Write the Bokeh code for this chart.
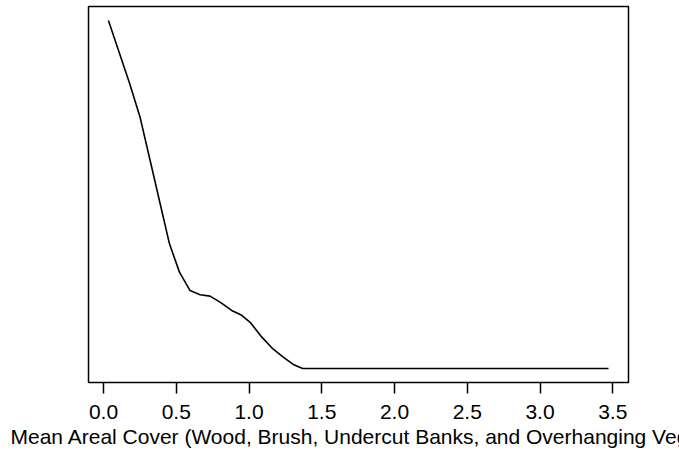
from bokeh.plotting import figure
from bokeh.models import Range1d, FixedTicker, Label, Title
from bokeh.embed import file_html
from bokeh.resources import INLINE

# Mean areal cover (x) vs. relative response (y)
cover = [0.034, 0.178, 0.252, 0.321, 0.389, 0.453, 0.522, 0.595, 0.664, 0.732,
         0.801, 0.881, 0.950, 1.012, 1.087, 1.163, 1.235, 1.304, 1.369, 3.471]
response = [1.000, 0.821, 0.721, 0.597, 0.474, 0.359, 0.277, 0.224, 0.212, 0.208,
            0.191, 0.167, 0.153, 0.131, 0.091, 0.057, 0.033, 0.012, 0.000, 0.000]
x_ticks = [0.0, 0.5, 1.0, 1.5, 2.0, 2.5, 3.0, 3.5]
x_title = "Mean Areal Cover (Wood, Brush, Undercut Banks, and Overhanging Vegetation)"
note_text = "BLIAR-130"

FONT = "Liberation Sans"

p = figure(width=679, height=451, output_backend="svg", toolbar_location=None,
           x_range=Range1d(-0.103, 3.608), y_range=Range1d(-0.04, 1.04),
           min_border_left=88, min_border_right=51, min_border_top=6, min_border_bottom=69)
p.background_fill_color = "white"
p.border_fill_color = "white"
p.outline_line_color = "black"
p.outline_line_width = 1.5
p.grid.visible = False
p.yaxis.visible = False

p.line(cover, response, line_color="black", line_width=1.6)

ax = p.xaxis[0]
ax.ticker = FixedTicker(ticks=x_ticks)
ax.major_label_overrides = {t: f"{t:.1f}" for t in x_ticks}
ax.axis_line_color = None
ax.major_tick_in = 0
ax.major_tick_out = 11
ax.major_tick_line_width = 1.5
ax.major_tick_line_color = "black"
ax.minor_tick_line_color = None
ax.major_label_text_font = FONT
ax.major_label_text_font_size = "21px"
ax.major_label_text_color = "black"
ax.major_label_standoff = 11

# axis title: left-aligned as in the reference (it runs past the right edge)
title = Title(text=x_title, align="left", offset=-78, standoff=2,
              text_font=FONT, text_font_size="21px", text_font_style="normal",
              text_color="black")
p.add_layout(title, "below")

note = Label(x=477, y=-61, x_units="screen", y_units="screen", text=note_text,
             text_baseline="top", text_font=FONT, text_font_size="20px",
             text_color="black")
p.add_layout(note)

open("out.html", "w").write(file_html(p, INLINE))
